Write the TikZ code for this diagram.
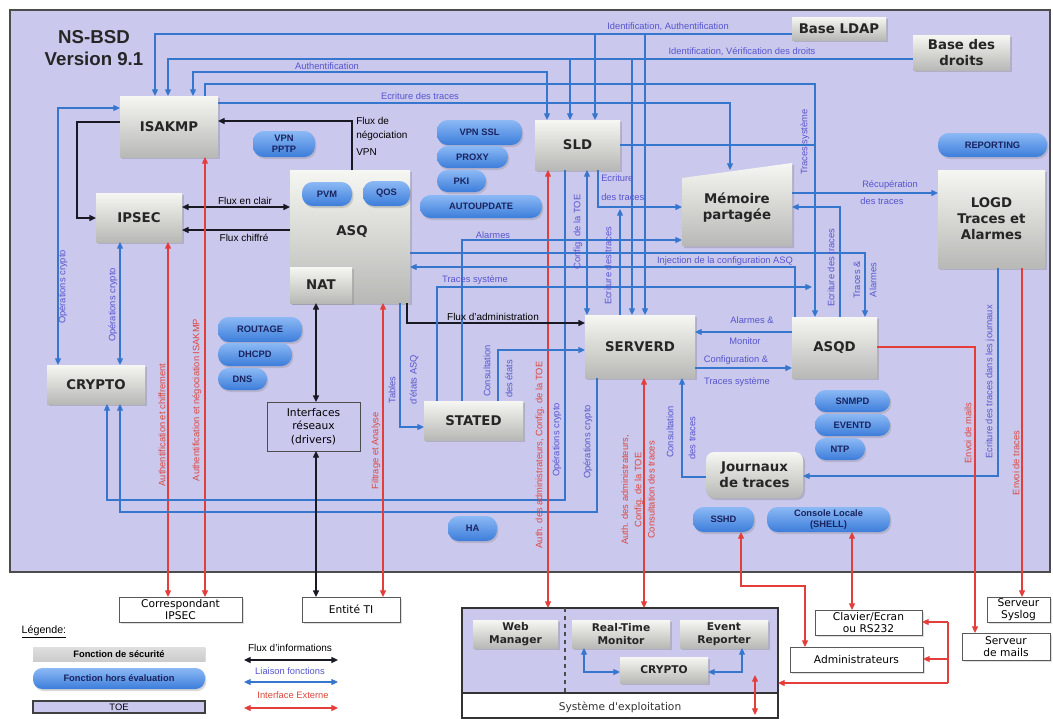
\documentclass[tikz,border=0pt]{standalone}
\usepackage{fontspec}
\setmainfont{Liberation Sans}
\newfontfamily\djv{DejaVu Sans}
\usetikzlibrary{arrows.meta,shadows}
\definecolor{toe}{RGB}{203,200,238}
\definecolor{bln}{RGB}{55,118,205}
\definecolor{btx}{RGB}{85,85,205}
\definecolor{rdl}{RGB}{228,62,58}
\definecolor{rtx}{RGB}{220,70,60}
\definecolor{blk}{RGB}{25,25,35}
\definecolor{pilltop}{RGB}{140,185,245}
\definecolor{pillbot}{RGB}{60,125,218}
\definecolor{pilltx}{RGB}{25,35,95}
\definecolor{gtop}{RGB}{246,246,242}
\definecolor{gbot}{RGB}{184,184,182}
\newcommand\mkbox[7]{\node[#1, minimum width={(#5-#3)*0.75pt}, minimum height={(#6-#4)*0.75pt}] (#2) at ({(#3+#5)/2},{(#4+#6)/2}) {#7};}
\newcommand\bxf{\djv\bfseries\fontsize{10}{12}\selectfont}
\newcommand\sxf{\djv\bfseries\fontsize{8}{10}\selectfont}
\newcommand\pxf{\bfseries\fontsize{7}{8}\selectfont}
\newcommand\lbf{\fontsize{7}{8.4}\selectfont}
\tikzset{
  toebox/.style={fill=toe, draw=black!70, line width=0.9pt, inner sep=0pt, outer sep=0pt},
  gbox/.style={top color=gtop, bottom color=gbot, draw=none, drop shadow={opacity=0.35,shadow xshift=1.5pt,shadow yshift=-1.5pt}, font=\bxf, align=center, inner sep=0pt, outer sep=0pt, text=black!85},
  sbox/.style={gbox, font=\sxf},
  pill/.style={rounded corners=8pt, top color=pilltop, bottom color=pillbot, draw=none, drop shadow={opacity=0.3,shadow xshift=1pt,shadow yshift=-1.5pt}, font=\pxf, text=pilltx, align=center, inner sep=0pt, outer sep=0pt},
  wbox/.style={draw=black!65, fill=white, font=\djv\fontsize{8}{9.5}\selectfont, align=center, inner sep=0pt, outer sep=0pt, drop shadow={opacity=0.25,shadow xshift=1.5pt,shadow yshift=-1.5pt}},
  bl/.style={draw=bln, line width=0.9pt},
  rd/.style={draw=rdl, line width=0.9pt},
  bk/.style={draw=blk, line width=1pt},
  btxt/.style={text=btx, font=\lbf, inner sep=0pt},
  rtxt/.style={text=rtx, font=\lbf, inner sep=0pt, align=center},
  ktxt/.style={text=black, font=\fontsize{7.5}{9}\selectfont, inner sep=0pt},
  vlab/.style={rotate=90}
}
\begin{document}
\begin{tikzpicture}[x=0.75pt,y=-0.75pt, >={Triangle[length=5pt,width=4.5pt]}]
\useasboundingbox (0,0) rectangle (1053,718);
\fill[white] (0,0) rectangle (1053,718);
% TOE
\mkbox{toebox}{toebg}{10}{10}{1050}{572}{}
\node[font=\bfseries\fontsize{14}{17}\selectfont, align=center, text=black!85] (title) at (94,48) {NS-BSD\\Version 9.1};
% security functions
\mkbox{gbox}{isakmp}{120}{96}{218}{157}{ISAKMP}
\mkbox{gbox}{ipsec}{96}{193}{182}{242}{IPSEC}
\mkbox{gbox}{asq}{290}{170}{410}{303}{}
\node[font=\bxf, text=black!85] (asqlab) at (352,232) {ASQ};
\mkbox{gbox}{nat}{290}{267}{352}{303}{NAT}
\mkbox{gbox}{sld}{535}{120}{620}{170}{SLD}
\path[top color=gtop, bottom color=gbot, drop shadow={opacity=0.35,shadow xshift=1.5pt,shadow yshift=-1.5pt}] (682,178) -- (792,163) -- (792,246) -- (682,246) -- cycle;
\node[font=\bxf, align=center, text=black!85, minimum width=82.5pt, minimum height=57pt, inner sep=0pt, outer sep=0pt] (mem) at (737,208) {Mémoire\\partagée};
\mkbox{gbox}{logd}{938}{170}{1045}{268}{LOGD\\Traces et\\Alarmes}
\mkbox{gbox}{ldap}{792}{17}{886}{40}{Base LDAP}
\mkbox{gbox}{droits}{913}{35}{1010}{70}{Base des\\droits}
\mkbox{gbox}{serverd}{585}{315}{695}{378}{SERVERD}
\mkbox{gbox}{asqd}{792}{317}{877}{378}{ASQD}
\mkbox{gbox}{stated}{424}{401}{523}{440}{STATED}
\mkbox{gbox}{crypto}{47}{365}{145}{404}{CRYPTO}
\mkbox{gbox,rounded corners=6pt}{journaux}{706}{452}{803}{498}{Journaux\\de traces}
% pills
\mkbox{pill}{pptp}{253}{131}{315}{157}{VPN\\PPTP}
\mkbox{pill}{pvm}{302}{182}{352}{206}{PVM}
\mkbox{pill}{qos}{363}{181}{410}{206}{QOS}
\mkbox{pill}{vpnssl}{437}{120}{522}{145}{VPN SSL}
\mkbox{pill}{proxy}{437}{146}{508}{168}{PROXY}
\mkbox{pill}{pki}{437}{170}{486}{192}{PKI}
\mkbox{pill}{autoupd}{420}{195}{542}{218}{AUTOUPDATE}
\mkbox{pill}{reporting}{938}{133}{1047}{157}{REPORTING}
\mkbox{pill}{routage}{218}{317}{302}{342}{ROUTAGE}
\mkbox{pill}{dhcpd}{218}{343}{292}{366}{DHCPD}
\mkbox{pill}{dns}{218}{368}{267}{390}{DNS}
\mkbox{pill}{snmpd}{815}{390}{890}{412}{SNMPD}
\mkbox{pill}{eventd}{815}{414}{890}{436}{EVENTD}
\mkbox{pill}{ntp}{815}{438}{865}{460}{NTP}
\mkbox{pill}{ha}{448}{516}{497}{541}{HA}
\mkbox{pill}{sshd}{693}{507}{754}{532}{SSHD}
\mkbox{pill}{console}{767}{507}{890}{532}{Console Locale\\(SHELL)}
% interfaces
\mkbox{draw=black!70, fill=toe, font=\djv\fontsize{8}{10}\selectfont, align=center, inner sep=0pt, outer sep=0pt}{iface}{267}{402}{360}{451}{Interfaces\\réseaux\\(drivers)}
% outside boxes
\mkbox{wbox}{corr}{119}{597}{242}{622}{Correspondant\\IPSEC}
\mkbox{wbox}{entite}{302}{597}{400}{622}{Entité TI}
\mkbox{wbox}{clavier}{815}{610}{922}{635}{Clavier/Ecran\\ou RS232}
\mkbox{wbox}{admins}{790}{647}{923}{672}{Administrateurs}
\mkbox{wbox}{mails}{962}{633}{1050}{660}{Serveur\\de mails}
\mkbox{wbox}{syslog}{987}{597}{1050}{622}{Serveur\\Syslog}
% operating system box
\mkbox{draw=black!80, fill=white, line width=0.9pt, inner sep=0pt, outer sep=0pt}{os}{462}{608}{778}{718}{}
\fill[toe] (462.6,608.6) rectangle (777.4,693);
\draw[black!80, line width=0.9pt] (os.north west) rectangle (os.south east);
\draw[black!80, line width=0.8pt] (os.west |- 0,693) -- (os.east |- 0,693);
\draw[black!70, dashed, line width=0.8pt] (os.north -| 565,0) -- (565,693);
\node[font=\djv\fontsize{8}{9}\selectfont, text=black!80] (oslab) at (620,707) {Système d'exploitation};
\mkbox{sbox}{webman}{473}{620}{558}{648}{Web\\Manager}
\mkbox{sbox}{rtm}{572}{620}{670}{648}{Real-Time\\Monitor}
\mkbox{sbox}{evrep}{680}{620}{768}{648}{Event\\Reporter}
\mkbox{sbox}{crypto2}{620}{657}{708}{683}{CRYPTO}
% ===== connectors =====
% top bus lines
\draw[bl,->] (ldap.west |- 0,34) -- (155,34) -- (isakmp.north -| 155,0);
\draw[bl,->] (595,34) -- (sld.north -| 595,0);
\draw[bl,->] (645,34) -- (serverd.north -| 645,0);
\draw[bl,->] (droits.west |- 0,59) -- (168,59) -- (isakmp.north -| 168,0);
\draw[bl,->] (570,59) -- (sld.north -| 570,0);
\draw[bl,->] (632,59) -- (serverd.north -| 632,0);
\draw[bl,<->] (isakmp.north -| 193,0) -- (193,72) -- (547,72) -- (sld.north -| 547,0);
\draw[bl,->] (isakmp.north -| 205,0) -- (205,84) -- (815,84) -- (asqd.north -| 815,0);
\draw[bl] (sld.east |- 0,145) -- (815,145);
\draw[bl,->] (isakmp.east |- 0,103) -- (730,103) -- (mem.north -| 730,0);
% ISAKMP / IPSEC / CRYPTO
\draw[bk,->] (asq.north -| 352,0) -- (352,121) -- (isakmp.east |- 0,121);
\draw[bk,->] (isakmp.west |- 0,122) -- (77,122) -- (77,218) -- (ipsec.west |- 0,218);
\draw[bl,<->] (crypto.north -| 58,0) -- (58,108) -- (isakmp.west |- 0,108);
\draw[bl,<->] (ipsec.south -| 120,0) -- (crypto.north -| 120,0);
\draw[bk,<->] (ipsec.east |- 0,207) -- (asq.west |- 0,207);
\draw[bk,->] (asq.west |- 0,230) -- (ipsec.east |- 0,230);
\draw[rd,<->] (ipsec.south -| 168,0) -- (corr.north -| 168,0);
\draw[rd,<->] (isakmp.south -| 205,0) -- (corr.north -| 205,0);
\draw[bl,<-] (crypto.south -| 107,0) -- (107,500) -- (565,500) -- (sld.south -| 565,0);
\draw[bl,<-] (crypto.south -| 120,0) -- (120,512) -- (597,512) -- (serverd.south -| 597,0);
% red interfaces
\draw[rd,<->] (sld.south -| 548,0) -- (os.north -| 548,0);
\draw[rd,<->] (serverd.south -| 644,0) -- (os.north -| 644,0);
\draw[rd,<->] (asq.south -| 383,0) -- (entite.north -| 383,0);
% NAT / interfaces
\draw[bk,<->] (nat.south -| 316,0) -- (iface.north -| 316,0);
\draw[bk,<->] (iface.south -| 316,0) -- (entite.north -| 316,0);
% ASQ / STATED / SERVERD
\draw[bl,->] (asq.south -| 400,0) -- (400,427) -- (stated.west |- 0,427);
\draw[bk,->] (asq.south -| 407,0) -- (407,323) -- (serverd.west |- 0,323);
\draw[bl,->] (stated.north -| 498,0) -- (498,350) -- (serverd.west |- 0,350);
\draw[bl,->] (stated.north -| 462,0) -- (462,240) -- (mem.west |- 0,240);
\draw[bl,->] (stated.north -| 437,0) -- (437,287) -- (812,287);
\draw[bl,->] (asq.east |- 0,253) -- (865,253) -- (asqd.north -| 865,0);
\draw[bl,->] (asqd.north -| 795,0) -- (795,267) -- (asq.east |- 0,267);
% SLD / SERVERD / Memoire
\draw[bl,<->] (sld.south -| 587,0) -- (serverd.north -| 587,0);
\draw[bl,->] (sld.south -| 598,0) -- (598,207) -- (mem.west |- 0,207);
\draw[bl,->] (serverd.north -| 620,0) -- (620,209);
\draw[bl,->] (asqd.north -| 840,0) -- (840,207) -- (mem.east |- 0,207);
\draw[bl,->] (mem.east |- 0,193) -- (logd.west |- 0,193);
\draw[bl,->] (asqd.west |- 0,332) -- (serverd.east |- 0,332);
\draw[bl,->] (serverd.east |- 0,368) -- (asqd.west |- 0,368);
\draw[bl,->] (journaux.west |- 0,477) -- (682,477) -- (serverd.south -| 682,0);
\draw[bl,->] (logd.south -| 998,0) -- (998,476) -- (journaux.east |- 0,476);
% right side red
\draw[rd,->] (asqd.east |- 0,347) -- (975,347) -- (mails.north -| 975,0);
\draw[rd,->] (logd.south -| 1022,0) -- (syslog.north -| 1022,0);
\draw[rd,<->] (sshd.south -| 741,0) -- (741,586) -- (805,586) -- (admins.north -| 805,0);
\draw[rd,<->] (console.south -| 852,0) -- (clavier.north -| 852,0);
\draw[rd] (948,622) -- (948,683);
\draw[rd,->] (948,622) -- (clavier.east |- 0,622);
\draw[rd,->] (948,659) -- (admins.east |- 0,659);
\draw[rd,->] (948,683) -- (os.east |- 0,683);
\draw[rd,<->] (755,675) -- (755,715);
% inside OS box
\draw[bl,<->] (rtm.south -| 584,0) -- (584,672) -- (crypto2.west |- 0,672);
\draw[bl,<->] (evrep.south -| 742,0) -- (742,672) -- (crypto2.east |- 0,672);
% ===== labels =====
\node[btxt] at (668,27) {Identification, Authentification};
\node[btxt] at (742,52) {Identification, Vérification des droits};
\node[btxt] at (327,66) {Authentification};
\node[btxt] at (420,96) {Ecriture des traces};
\node[btxt,vlab] at (805,142) {Traces système};
\node[btxt] at (890,185) {Récupération};
\node[btxt] at (882,201) {des traces};
\node[btxt,vlab] at (63,287) {Opérations crypto};
\node[btxt,vlab] at (113,305) {Opérations crypto};
\node[btxt,anchor=west] at (601,178) {Ecriture};
\node[btxt,anchor=west] at (601,197) {des traces};
\node[btxt,vlab] at (578,232) {Config. de la TOE};
\node[btxt,vlab] at (608,266) {Ecriture des traces};
\node[btxt] at (493,235) {Alarmes};
\node[btxt] at (725,261) {Injection de la configuration ASQ};
\node[btxt] at (475,280) {Traces système};
\node[btxt,vlab] at (831,268) {Ecriture des traces};
\node[btxt,vlab] at (857,280) {Traces \&};
\node[btxt,vlab] at (873,280) {Alarmes};
\node[btxt] at (752,320) {Alarmes \&};
\node[btxt] at (745,341) {Monitor};
\node[btxt] at (736,360) {Configuration \&};
\node[btxt] at (737,382) {Traces système};
\node[btxt,vlab] at (392,390) {Tables};
\node[btxt,vlab] at (414,380) {d'états ASQ};
\node[btxt,vlab] at (487,371) {Consultation};
\node[btxt,vlab] at (509,379) {des états};
\node[btxt,vlab] at (557,440) {Opérations crypto};
\node[btxt,vlab] at (588,442) {Opérations crypto};
\node[btxt,vlab] at (670,432) {Consultation};
\node[btxt,vlab] at (692,438) {des traces};
\node[btxt,vlab] at (990,382) {Ecriture des traces dans les journaux};
\node[rtxt,vlab] at (162,425) {Authentification et chiffrement};
\node[rtxt,vlab] at (197,400) {Authentification et négociation ISAKMP};
\node[rtxt,vlab] at (376,451) {Filtrage et Analyse};
\node[rtxt,vlab] at (540,455) {Auth. des administrateurs, Config. de la TOE};
\node[rtxt,vlab,font=\fontsize{7}{10}\selectfont] at (638,490) {Auth. des administrateurs,\\Config. de la TOE\\Consultation des traces};
\node[rtxt,vlab] at (968,433) {Envoi de mails};
\node[rtxt,vlab] at (1016,463) {Envoi de traces};
\node[ktxt] at (245,201) {Flux en clair};
\node[ktxt] at (244,238) {Flux chiffré};
\node[ktxt] at (493,317) {Flux d'administration};
\node[ktxt,anchor=north west,align=left,font=\fontsize{7.5}{10.5}\selectfont] at (356,117) {Flux de\\négociation\\[2pt]VPN};
% ===== legend =====
\node[anchor=west, font=\fontsize{8}{9}\selectfont] (leg) at (17,632) {\underline{Légende:}};
\mkbox{top color=gray!25, bottom color=gray!40, drop shadow={opacity=0.25,shadow xshift=1pt,shadow yshift=-1pt}, font=\bfseries\fontsize{7}{8}\selectfont, inner sep=0pt}{legg}{33}{647}{205}{661}{Fonction de sécurité}
\mkbox{pill,rounded corners=7pt, font=\bfseries\fontsize{7}{8}\selectfont}{legb}{33}{668}{205}{689}{Fonction hors évaluation}
\mkbox{fill=toe, draw=black!75, line width=0.8pt, font=\fontsize{7}{8}\selectfont, inner sep=0pt}{legt}{33}{701}{205}{713}{TOE}
\node[ktxt] at (290,648) {Flux d'informations};
\draw[bk,<->] (244,660) -- (338,660);
\node[btxt] at (290,671) {Liaison fonctions};
\draw[bl,<->] (244,682) -- (338,682);
\node[rtxt] at (293,695) {Interface Externe};
\draw[rd,<->] (244,708) -- (338,708);
\end{tikzpicture}
\end{document}
